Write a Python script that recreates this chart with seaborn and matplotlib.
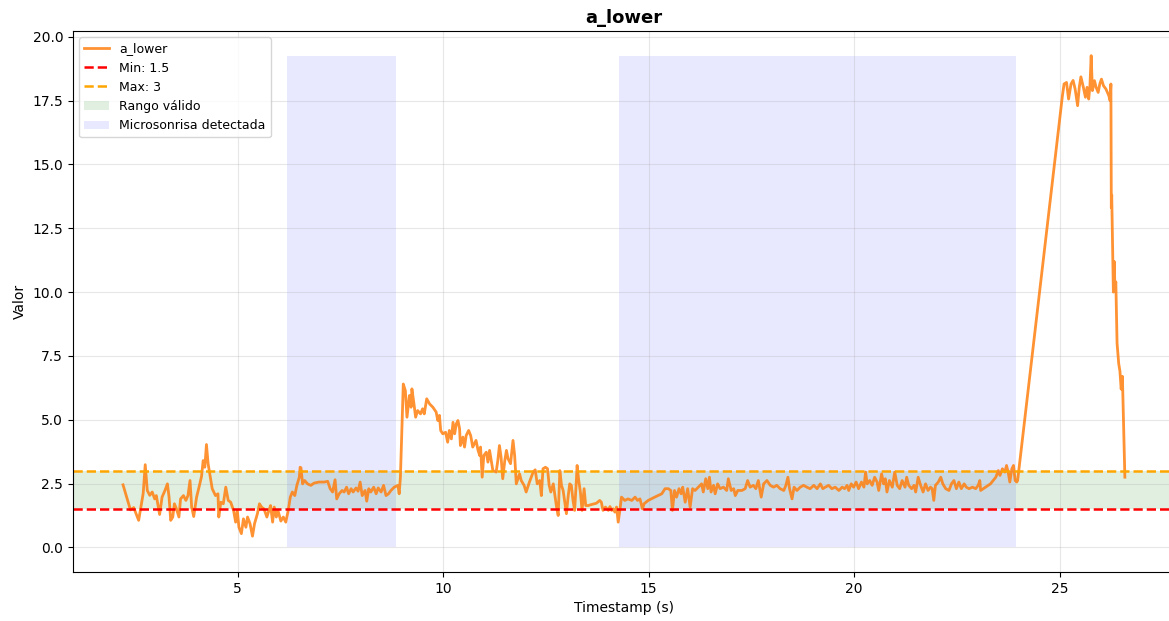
import matplotlib
matplotlib.use("Agg")
import matplotlib.pyplot as plt
import seaborn as sns
import numpy as np
import pandas as pd

# ---------------- data ----------------
timestamps = [
    2.21, 2.39, 2.47, 2.59, 2.65, 2.70, 2.75, 2.80, 2.86, 2.92, 2.98, 3.02, 3.10, 3.16, 3.23, 3.29,
    3.33, 3.37, 3.42, 3.46, 3.51, 3.57, 3.61, 3.68, 3.74, 3.79, 3.84, 3.88, 3.93, 4.00, 4.07, 4.12,
    4.16, 4.20, 4.24, 4.28, 4.32, 4.38, 4.46, 4.52, 4.54, 4.59, 4.65, 4.71, 4.77, 4.83, 4.90, 4.95,
    4.99, 5.03, 5.09, 5.14, 5.20, 5.24, 5.30, 5.36, 5.41, 5.48, 5.53, 5.58, 5.64, 5.71, 5.76, 5.80,
    5.85, 5.89, 5.94, 5.98, 6.05, 6.11, 6.17, 6.23, 6.28, 6.33, 6.39, 6.44, 6.50, 6.52,
    6.54, 6.58, 6.63, 6.70, 6.78, 6.86, 6.98, 7.11, 7.19, 7.25, 7.31, 7.37, 7.41, 7.47, 7.54, 7.59,
    7.65, 7.70, 7.76, 7.81, 7.88, 7.93, 7.98, 8.03, 8.10, 8.14, 8.19, 8.24, 8.31, 8.37, 8.42, 8.49,
    8.55, 8.61, 8.67, 8.73, 8.81, 8.90, 8.93, 8.96,
    9.03, 9.08, 9.12, 9.18, 9.22, 9.24, 9.29, 9.33, 9.38, 9.45, 9.50, 9.54, 9.60, 9.67, 9.75, 9.83,
    9.87, 9.91, 9.94, 9.99, 10.06, 10.11, 10.15, 10.20, 10.24, 10.28, 10.32, 10.36, 10.40, 10.42,
    10.48, 10.52, 10.56, 10.62, 10.67, 10.72, 10.80, 10.85, 10.89, 10.91, 10.95, 10.99, 11.05, 11.09,
    11.13, 11.17, 11.21, 11.29, 11.33, 11.37, 11.41, 11.45, 11.50, 11.54, 11.58, 11.64, 11.70, 11.74,
    11.78, 11.82, 11.86, 11.90, 11.97, 12.02, 12.10, 12.19, 12.24, 12.29, 12.35, 12.39, 12.43, 12.49,
    12.54, 12.58, 12.62, 12.68, 12.72, 12.76, 12.80, 12.84, 12.88, 12.92, 12.96, 13.00, 13.04, 13.08,
    13.12, 13.16, 13.20, 13.24, 13.26, 13.30, 13.34, 13.38, 13.43, 13.47, 13.53, 13.61, 13.73, 13.81,
    13.85, 13.89, 13.95, 14.02, 14.06, 14.10, 14.14, 14.18, 14.22, 14.26, 14.30,
    14.34, 14.42, 14.50, 14.59, 14.67, 14.73, 14.79, 14.85, 14.89, 14.99, 15.15, 15.32, 15.40, 15.48,
    15.54, 15.58, 15.63, 15.68, 15.74, 15.79, 15.83, 15.89, 15.95, 16.01, 16.07, 16.13, 16.21, 16.29,
    16.33, 16.39, 16.44, 16.48, 16.52, 16.58, 16.62, 16.68, 16.74, 16.82, 16.90, 16.94, 17.01, 17.07,
    17.11, 17.17, 17.27, 17.35, 17.41, 17.47, 17.55, 17.61, 17.67, 17.74, 17.80, 17.88, 17.96, 18.04,
    18.12, 18.20, 18.29, 18.34, 18.39, 18.43, 18.49, 18.54, 18.61, 18.69, 18.77, 18.85, 18.93, 19.02,
    19.10, 19.18, 19.24, 19.30, 19.38, 19.46, 19.54, 19.63, 19.71, 19.77, 19.83, 19.87, 19.93, 19.99,
    20.05, 20.11, 20.18, 20.24, 20.28, 20.32, 20.38, 20.44, 20.50, 20.56, 20.60, 20.67, 20.72, 20.76,
    20.80, 20.86, 20.93, 20.99, 21.05, 21.11, 21.17, 21.24, 21.28, 21.33, 21.40, 21.46, 21.50, 21.56,
    21.62, 21.68, 21.74, 21.80, 21.86, 21.90, 21.94, 21.98, 22.05, 22.11, 22.16, 22.23, 22.31, 22.37,
    22.43, 22.49, 22.55, 22.61, 22.68, 22.73, 22.80, 22.88, 22.96, 23.02, 23.06, 23.08, 23.20, 23.32,
    23.45, 23.51, 23.55, 23.61, 23.67, 23.71, 23.75, 23.79, 23.84, 23.88, 23.92, 23.96, 23.98,
    25.07, 25.11, 25.17, 25.22, 25.28, 25.33, 25.38, 25.44, 25.48, 25.52, 25.58, 25.63, 25.67, 25.71,
    25.74, 25.77, 25.80, 25.85, 25.89, 25.94, 25.98, 26.02, 26.07, 26.13, 26.20, 26.23, 26.25, 26.26,
    26.27, 26.29, 26.31, 26.33, 26.35, 26.37, 26.40, 26.44, 26.47, 26.50, 26.53, 26.59,
]

a_lower = [
    2.45, 1.47, 1.56, 1.06, 1.64, 2.11, 3.24, 2.23, 2.04, 2.17, 1.90, 2.03, 1.29, 1.97, 2.23, 2.49,
    1.97, 1.06, 1.19, 1.71, 1.51, 1.19, 1.90, 2.03, 1.84, 2.03, 2.62, 1.58, 1.21, 1.97, 2.43, 2.78,
    3.40, 3.14, 4.03, 3.28, 2.88, 2.30, 2.03, 2.10, 1.19, 1.77, 1.71, 2.36, 1.84, 1.77, 1.45, 0.99,
    1.45, 0.79, 0.54, 1.12, 0.79, 1.19, 0.93, 0.44, 0.93, 1.32, 1.71, 1.58, 1.51, 1.19, 1.45, 1.64,
    0.99, 1.58, 1.19, 1.45, 1.03, 1.19, 0.99, 1.45, 1.97, 2.17, 2.03, 2.43, 2.75, 3.14,
    3.12, 2.49, 2.62, 2.49, 2.43, 2.52, 2.56, 2.56, 2.59, 2.30, 2.17, 2.65, 1.90, 2.10, 2.23, 2.17,
    2.36, 2.10, 2.30, 2.17, 2.33, 2.20, 2.56, 2.03, 2.23, 1.81, 2.30, 2.17, 2.36, 2.10, 2.33, 2.17,
    2.43, 2.03, 2.10, 2.23, 2.36, 2.43, 2.10, 2.75,
    6.40, 6.14, 5.10, 5.95, 5.49, 6.21, 5.62, 5.10, 5.36, 5.23, 5.43, 5.23, 5.82, 5.62, 5.49, 5.30,
    4.97, 5.17, 4.58, 4.45, 4.51, 4.12, 4.58, 4.25, 4.90, 4.45, 4.84, 4.97, 4.65, 3.99,
    4.32, 3.93, 4.38, 4.58, 4.38, 3.93, 4.19, 3.80, 3.60, 3.93, 2.75, 3.60, 3.73, 3.34,
    3.80, 3.40, 3.01, 2.95, 3.40, 3.99, 3.53, 2.69, 3.40, 3.80, 3.47, 3.28, 4.19, 3.60,
    2.49, 2.69, 2.88, 2.62, 2.43, 2.17, 2.56, 2.95, 3.04, 2.49, 2.62, 2.03, 3.08, 3.14,
    3.08, 2.43, 2.17, 2.49, 2.03, 1.58, 1.25, 3.01, 2.43, 2.23, 1.77, 1.32, 1.97, 2.49,
    2.43, 1.84, 1.45, 2.56, 3.21, 2.62, 2.17, 1.45, 2.30, 1.64, 1.64, 1.68, 1.73, 1.84,
    1.77, 1.45, 1.58, 1.45, 1.60, 1.45, 1.51, 1.38, 1.58, 0.99, 1.45,
    1.97, 1.84, 1.90, 1.84, 1.97, 1.84, 1.90, 1.51, 1.71, 1.84, 1.97, 2.10, 2.30, 2.30,
    2.23, 1.45, 2.23, 1.97, 2.30, 2.10, 2.36, 1.77, 2.30, 1.58, 2.30, 2.23, 2.36, 2.49,
    2.17, 2.69, 2.30, 2.75, 2.17, 2.43, 2.10, 2.49, 2.30, 2.36, 2.23, 2.69, 2.23, 2.30,
    2.03, 2.23, 2.23, 2.30, 2.62, 2.36, 2.43, 2.30, 2.62, 1.97, 2.49, 2.62, 2.43, 2.36,
    2.43, 2.30, 2.23, 2.43, 2.75, 2.30, 1.90, 2.36, 2.23, 2.36, 2.43, 2.36, 2.30, 2.43,
    2.30, 2.49, 2.30, 2.36, 2.43, 2.30, 2.36, 2.23, 2.36, 2.30, 2.43, 2.23, 2.49, 2.36,
    2.56, 2.30, 2.56, 2.36, 2.95, 2.49, 2.62, 2.43, 2.75, 2.56, 2.23, 2.88, 2.49, 2.69,
    2.17, 2.62, 2.36, 2.95, 2.43, 2.30, 2.62, 2.36, 2.75, 2.43, 2.30, 2.43, 2.17, 2.75,
    2.43, 2.17, 2.49, 2.23, 2.36, 2.30, 1.84, 2.43, 2.56, 2.75, 2.49, 2.30, 2.23, 2.49,
    2.62, 2.30, 2.56, 2.30, 2.49, 2.36, 2.30, 2.36, 2.30, 2.43, 2.62, 2.23, 2.36, 2.49,
    2.75, 3.01, 2.82, 3.08, 2.95, 3.21, 2.95, 2.56, 3.08, 3.21, 2.62, 2.56, 2.62,
    17.69, 18.15, 18.21, 17.56, 18.15, 18.29, 17.95, 17.30, 18.02, 18.43, 18.02, 17.63, 18.02, 17.56,
    18.08, 19.26, 17.89, 18.28, 18.02, 17.82, 18.15, 18.34, 18.08, 17.95, 17.69, 17.50, 18.15, 13.30,
    13.80, 12.00, 10.00, 11.20, 10.10, 10.40, 8.00, 7.20, 6.90, 6.20, 6.70, 2.75,
]

min_value = 1.5
max_value = 3.0
span_starts = [6.20, 14.28]
span_ends = [8.85, 23.95]

df = pd.DataFrame({"Timestamp": timestamps, "a_lower": a_lower})

# ---------------- plot ----------------
fig = plt.figure(figsize=(11.69, 6.21), dpi=100)
ax = fig.add_axes([0.0624, 0.0789, 0.9427, 0.8711])

sns.lineplot(data=df, x="Timestamp", y="a_lower", ax=ax, color="#ff7f0e", alpha=0.85,
             linewidth=2, label="a_lower", estimator=None, sort=False)
ax.axhline(min_value, color="red", linestyle="--", linewidth=1.8, label=f"Min: {min_value:g}")
ax.axhline(max_value, color="orange", linestyle="--", linewidth=1.8, label=f"Max: {max_value:g}")
ax.axhspan(min_value, max_value, color="green", alpha=0.12, linewidth=0, label="Rango válido")
ymax = max(a_lower)
for i, (s, e) in enumerate(zip(span_starts, span_ends)):
    ax.fill_between([s, e], 0, ymax, color="blue", alpha=0.09, linewidth=0,
                    label="Microsonrisa detectada" if i == 0 else None)

ax.set_title("a_lower", fontsize=13, fontweight="bold")
ax.set_xlabel("Timestamp (s)")
ax.set_ylabel("Valor")
ax.grid(True, alpha=0.3)
ax.legend(loc="upper left", fontsize=9)

fig.savefig("out.png", dpi=100)
